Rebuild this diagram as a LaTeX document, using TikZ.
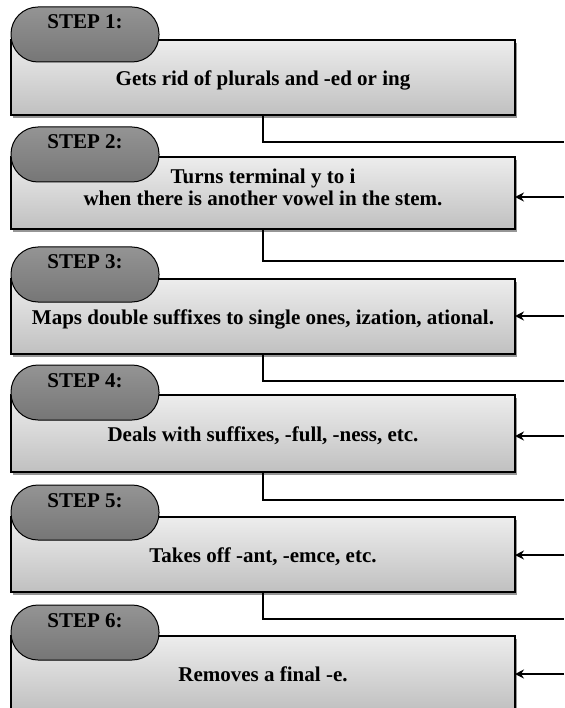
\documentclass[tikz,border=0pt]{standalone}
\usepackage{fontspec}
\setmainfont{Liberation Serif}
\usetikzlibrary{arrows.meta,shadows}
\definecolor{boxtop}{RGB}{237,237,237}
\definecolor{boxbot}{RGB}{192,192,192}
\definecolor{tabtop}{RGB}{148,148,148}
\definecolor{tabbot}{RGB}{118,118,118}
\definecolor{shadowgray}{RGB}{150,150,150}
\begin{document}
\begin{tikzpicture}[x=1pt,y=-1pt,
  stepbox/.style={draw=black, line width=1.1pt, top color=boxtop, bottom color=boxbot,
    minimum width=504pt, inner sep=0pt, outer sep=0pt, anchor=north west,
    font=\fontsize{21}{22}\selectfont\bfseries, align=center,
    text height=16pt, text depth=0pt,
    drop shadow={shadow xshift=2pt, shadow yshift=-3pt, fill=shadowgray, opacity=1}},
  steptab/.style={draw=black, line width=1pt, top color=tabtop, bottom color=tabbot,
    rounded corners=27pt, minimum width=148pt, minimum height=55pt, inner sep=0pt,
    outer sep=0pt, anchor=north west,
    font=\fontsize{21}{22}\selectfont\bfseries, text height=14pt, text depth=25pt},
  conn/.style={draw=black, line width=1.4pt},
  arr/.style={conn, -{Stealth[length=9pt, width=9pt, inset=3pt]}}]
\clip (0,0) rectangle (564,708);
\fill[white] (0,0) rectangle (564,708);

% boxes
\node[stepbox, minimum height=75pt] (box1) at (11,40) {Gets rid of plurals and -ed or ing};
\node[stepbox, minimum height=72pt, text height=36pt, text depth=11pt] (box2) at (11,157)
  {Turns terminal y to i\\ when there is another vowel in the stem.};
\node[stepbox, minimum height=75pt] (box3) at (11,279) {Maps double suffixes to single ones, ization, ational.};
\node[stepbox, minimum height=77pt] (box4) at (11,395) {Deals with suffixes, -full, -ness, etc.};
\node[stepbox, minimum height=75pt] (box5) at (11,517) {Takes off -ant, -emce, etc.};
\node[stepbox, minimum height=75pt] (box6) at (11,636) {Removes a final -e.};

% tabs
\node[steptab] (tab1) at (11,7)   {STEP 1:};
\node[steptab] (tab2) at (11,127) {STEP 2:};
\node[steptab] (tab3) at (11,247) {STEP 3:};
\node[steptab] (tab4) at (11,365) {STEP 4:};
\node[steptab] (tab5) at (11,485) {STEP 5:};
\node[steptab] (tab6) at (11,605) {STEP 6:};

% outgoing connectors
\coordinate (out1) at (564,142);
\coordinate (out2) at (564,261);
\coordinate (out3) at (564,381);
\coordinate (out4) at (564,500);
\coordinate (out5) at (564,619);
\draw[conn] (box1.south) |- (out1);
\draw[conn] (box2.south) |- (out2);
\draw[conn] (box3.south) |- (out3);
\draw[conn] (box4.south) |- (out4);
\draw[conn] (box5.south) |- (out5);

% incoming arrows
\coordinate (in2) at (564,197);
\coordinate (in3) at (564,316);
\coordinate (in4) at (564,436);
\coordinate (in5) at (564,555);
\coordinate (in6) at (564,674);
\draw[arr] (in2) -- (in2 -| box2.east);
\draw[arr] (in3) -- (in3 -| box3.east);
\draw[arr] (in4) -- (in4 -| box4.east);
\draw[arr] (in5) -- (in5 -| box5.east);
\draw[arr] (in6) -- (in6 -| box6.east);
\end{tikzpicture}
\end{document}
